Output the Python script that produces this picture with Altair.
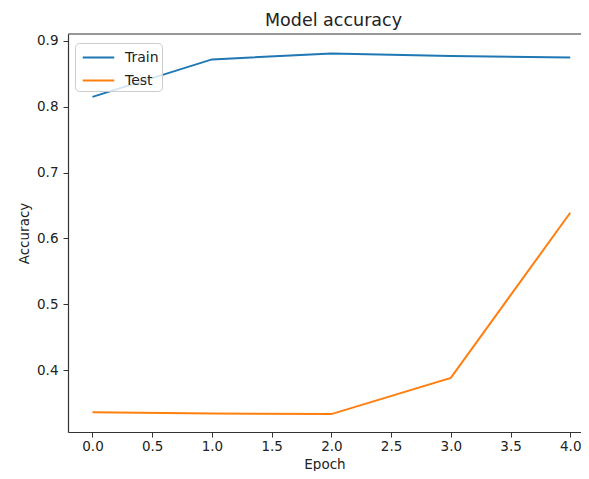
import altair as alt
import pandas as pd

# ---- data ----
epochs = [0, 1, 2, 3, 4]
train_acc = [0.815, 0.872, 0.881, 0.877, 0.875]
test_acc = [0.336, 0.334, 0.333, 0.388, 0.639]
series_names = ["Train", "Test"]
series_colors = ["#1f77b4", "#ff7f0e"]
x_ticks = [0.0, 0.5, 1.0, 1.5, 2.0, 2.5, 3.0, 3.5, 4.0]
y_ticks = [0.4, 0.5, 0.6, 0.7, 0.8, 0.9]

rows = []
for e, v in zip(epochs, train_acc):
    rows.append({"epoch": e, "acc": v, "series": "Train"})
for e, v in zip(epochs, test_acc):
    rows.append({"epoch": e, "acc": v, "series": "Test"})
df = pd.DataFrame(rows)

W, H = 513, 398
FONT = "DejaVu Sans"

lines = alt.Chart(df).mark_line(strokeWidth=2, clip=True).encode(
    x=alt.X(
        "epoch:Q",
        scale=alt.Scale(domain=[-0.205, 4.09], nice=False, zero=False),
        axis=alt.Axis(values=x_ticks, format=".1f", title="Epoch", grid=False,
                      labelPadding=2, titleBaseline="alphabetic", titleY=36),
    ),
    y=alt.Y(
        "acc:Q",
        scale=alt.Scale(domain=[0.3058, 0.9106], nice=False, zero=False),
        axis=alt.Axis(values=y_ticks, format=".1f", title="Accuracy", grid=False,
                      labelPadding=5, titlePadding=5),
    ),
    color=alt.Color(
        "series:N",
        sort=series_names,
        scale=alt.Scale(domain=series_names, range=series_colors),
        legend=alt.Legend(
            title=None,
            orient="none",
            legendX=7,
            legendY=9,
            padding=3,
            rowPadding=4,
            symbolType="M-1.5,0H1.5",
            symbolSize=441,
            symbolStrokeWidth=2,
            symbolOffset=9,
            labelOffset=15,
            labelFont=FONT,
            labelFontSize=14,
            labelColor="#222222",
            strokeColor="#cccccc",
            fillColor="rgba(255,255,255,0.8)",
            cornerRadius=4,
        ),
    ),
)

top_spine = alt.Chart(pd.DataFrame({"a": [0]})).mark_rule(
    color="#333333", strokeWidth=1.2
).encode(x=alt.value(0), x2=alt.value(W), y=alt.value(0))

chart = (
    alt.layer(lines, top_spine)
    .properties(
        width=W,
        height=H,
        title=alt.TitleParams(
            "Model accuracy", font=FONT, fontSize=17.5, fontWeight="normal",
            color="#222222", anchor="middle", dx=9, offset=4,
        ),
        padding={"left": 60, "top": 26, "right": 0, "bottom": 39},
        autosize=alt.AutoSizeParams(type="none"),
        background="white",
    )
    .configure_view(stroke=None)
    .configure_axis(
        labelFont=FONT,
        labelFontSize=13.5,
        labelColor="#222222",
        titleFont=FONT,
        titleFontSize=13.5,
        titleFontWeight="normal",
        titleColor="#222222",
        domainColor="#333333",
        domainWidth=1.2,
        tickColor="#333333",
        tickWidth=1,
        tickSize=5,
    )
)

chart.save("out.html", embed_options={"renderer": "svg", "actions": False})
